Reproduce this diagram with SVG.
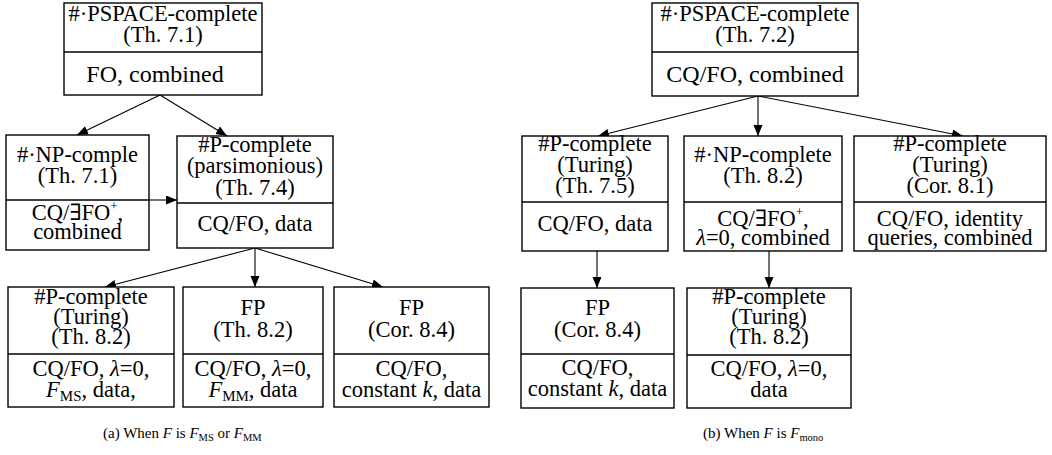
<svg xmlns="http://www.w3.org/2000/svg" width="1052" height="455" viewBox="0 0 1052 455" font-family="'Liberation Serif','Times New Roman',serif">
<style>
.box{fill:#fff;stroke:#000;stroke-width:1.4}
.div{stroke:#000;stroke-width:1.4}
text{font-family:"Liberation Serif","Times New Roman","DejaVu Serif",serif;font-size:22.5px;fill:#000;text-anchor:middle}
.big{font-size:24px}
.cap{font-size:15px;text-anchor:start}
.it{font-style:italic}
.sub{font-size:15px}
.capsub{font-size:10.5px}
.sup{font-size:13px}
.edge{stroke:#000;stroke-width:1.1;fill:none;marker-end:url(#ah)}
</style>
<defs>
<marker id="ah" markerUnits="userSpaceOnUse" markerWidth="12" markerHeight="10" refX="11" refY="4.5" orient="auto">
<path d="M0,0 L11,4.5 L0,9 z" fill="#000"/>
</marker>
</defs>
<g id="connectors">
<line class="edge" x1="160" y1="95" x2="77" y2="135"/>
<line class="edge" x1="160" y1="95" x2="227" y2="136"/>
<line class="edge" x1="149" y1="200" x2="177" y2="200"/>
<line class="edge" x1="255" y1="248" x2="105" y2="287"/>
<line class="edge" x1="255" y1="248" x2="255" y2="287"/>
<line class="edge" x1="255" y1="248" x2="383" y2="287"/>
<line class="edge" x1="758" y1="96" x2="598" y2="136"/>
<line class="edge" x1="758" y1="96" x2="758" y2="136"/>
<line class="edge" x1="758" y1="96" x2="963" y2="136"/>
<line class="edge" x1="597" y1="251" x2="597" y2="288"/>
<line class="edge" x1="769" y1="251" x2="769" y2="288"/>
</g>
<g id="nodeA">
<rect class="box" x="64" y="3" width="198" height="92"/>
<line class="div" x1="64" y1="52" x2="262" y2="52"/>
<text x="163" y="21">#·PSPACE-complete</text>
<text x="163" y="42">(Th. 7.1)</text>
<text class="big" x="155" y="82">FO, combined</text>
</g>
<g id="nodeB">
<rect class="box" x="6" y="135" width="143" height="115"/>
<line class="div" x1="6" y1="200" x2="149" y2="200"/>
<text x="77.5" y="162">#·NP-comple</text>
<text x="77.5" y="183">(Th. 7.1)</text>
<text x="77.5" y="220">CQ/∃FO<tspan class="sup" dy="-10">+</tspan><tspan dy="10">,</tspan></text>
<text x="77.5" y="239">combined</text>
</g>
<g id="nodeC">
<rect class="box" x="177" y="136" width="156" height="112"/>
<line class="div" x1="177" y1="203" x2="333" y2="203"/>
<text x="255" y="152">#P-complete</text>
<text x="255" y="173">(parsimonious)</text>
<text x="255" y="195">(Th. 7.4)</text>
<text x="255" y="231">CQ/FO, data</text>
</g>
<g id="nodeD">
<rect class="box" x="8" y="287" width="166" height="120"/>
<line class="div" x1="8" y1="354" x2="174" y2="354"/>
<text x="91" y="304">#P-complete</text>
<text x="91" y="324">(Turing)</text>
<text x="91" y="344">(Th. 8.2)</text>
<text x="91" y="376">CQ/FO, <tspan class="it">λ</tspan>=0,</text>
<text x="91" y="397"><tspan class="it">F</tspan><tspan class="sub" dy="4">MS</tspan><tspan dy="-4">, data,</tspan></text>
</g>
<g id="nodeE">
<rect class="box" x="183" y="287" width="140" height="120"/>
<line class="div" x1="183" y1="354" x2="323" y2="354"/>
<text x="253" y="315">FP</text>
<text x="253" y="337">(Th. 8.2)</text>
<text x="253" y="376">CQ/FO, <tspan class="it">λ</tspan>=0,</text>
<text x="253" y="397"><tspan class="it">F</tspan><tspan class="sub" dy="4">MM</tspan><tspan dy="-4">, data</tspan></text>
</g>
<g id="nodeF">
<rect class="box" x="334" y="287" width="155" height="120"/>
<line class="div" x1="334" y1="354" x2="489" y2="354"/>
<text x="411.5" y="315">FP</text>
<text x="411.5" y="337">(Cor. 8.4)</text>
<text x="411.5" y="376">CQ/FO,</text>
<text x="411.5" y="397">constant <tspan class="it">k,</tspan> data</text>
</g>
<g id="nodeG">
<rect class="box" x="652" y="3" width="206" height="93"/>
<line class="div" x1="652" y1="52" x2="858" y2="52"/>
<text x="755" y="21">#·PSPACE-complete</text>
<text x="755" y="42">(Th. 7.2)</text>
<text class="big" x="755" y="82">CQ/FO, combined</text>
</g>
<g id="nodeH">
<rect class="box" x="522" y="136" width="146" height="115"/>
<line class="div" x1="522" y1="202" x2="668" y2="202"/>
<text x="595" y="151">#P-complete</text>
<text x="595" y="172">(Turing)</text>
<text x="595" y="193">(Th. 7.5)</text>
<text x="595" y="231">CQ/FO, data</text>
</g>
<g id="nodeI">
<rect class="box" x="684" y="136" width="158" height="115"/>
<line class="div" x1="684" y1="202" x2="842" y2="202"/>
<text x="763" y="162">#·NP-complete</text>
<text x="763" y="183">(Th. 8.2)</text>
<text x="763" y="226">CQ/∃FO<tspan class="sup" dy="-10">+</tspan><tspan dy="10">,</tspan></text>
<text x="763" y="245"><tspan class="it">λ</tspan>=0, combined</text>
</g>
<g id="nodeJ">
<rect class="box" x="854" y="136" width="192" height="115"/>
<line class="div" x1="854" y1="202" x2="1046" y2="202"/>
<text x="950" y="151">#P-complete</text>
<text x="950" y="172">(Turing)</text>
<text x="950" y="193">(Cor. 8.1)</text>
<text x="950" y="226">CQ/FO, identity</text>
<text x="950" y="245">queries, combined</text>
</g>
<g id="nodeK">
<rect class="box" x="521" y="288" width="153" height="120"/>
<line class="div" x1="521" y1="354" x2="674" y2="354"/>
<text x="597.5" y="315">FP</text>
<text x="597.5" y="337">(Cor. 8.4)</text>
<text x="597.5" y="375">CQ/FO,</text>
<text x="597.5" y="396">constant <tspan class="it">k</tspan>, data</text>
</g>
<g id="nodeL">
<rect class="box" x="687" y="288" width="164" height="120"/>
<line class="div" x1="687" y1="355" x2="851" y2="355"/>
<text x="769" y="304">#P-complete</text>
<text x="769" y="324">(Turing)</text>
<text x="769" y="344">(Th. 8.2)</text>
<text x="769" y="376">CQ/FO, <tspan class="it">λ</tspan>=0,</text>
<text x="769" y="397">data</text>
</g>
<g id="captions">
<text class="cap" x="103" y="438">(a) When <tspan class="it">F</tspan> is <tspan class="it">F</tspan><tspan class="capsub" dy="3">MS</tspan><tspan dy="-3"> or </tspan><tspan class="it">F</tspan><tspan class="capsub" dy="3">MM</tspan></text>
<text class="cap" x="703" y="438">(b) When <tspan class="it">F</tspan> is <tspan class="it">F</tspan><tspan class="capsub" dy="3">mono</tspan></text>
</g>
</svg>
